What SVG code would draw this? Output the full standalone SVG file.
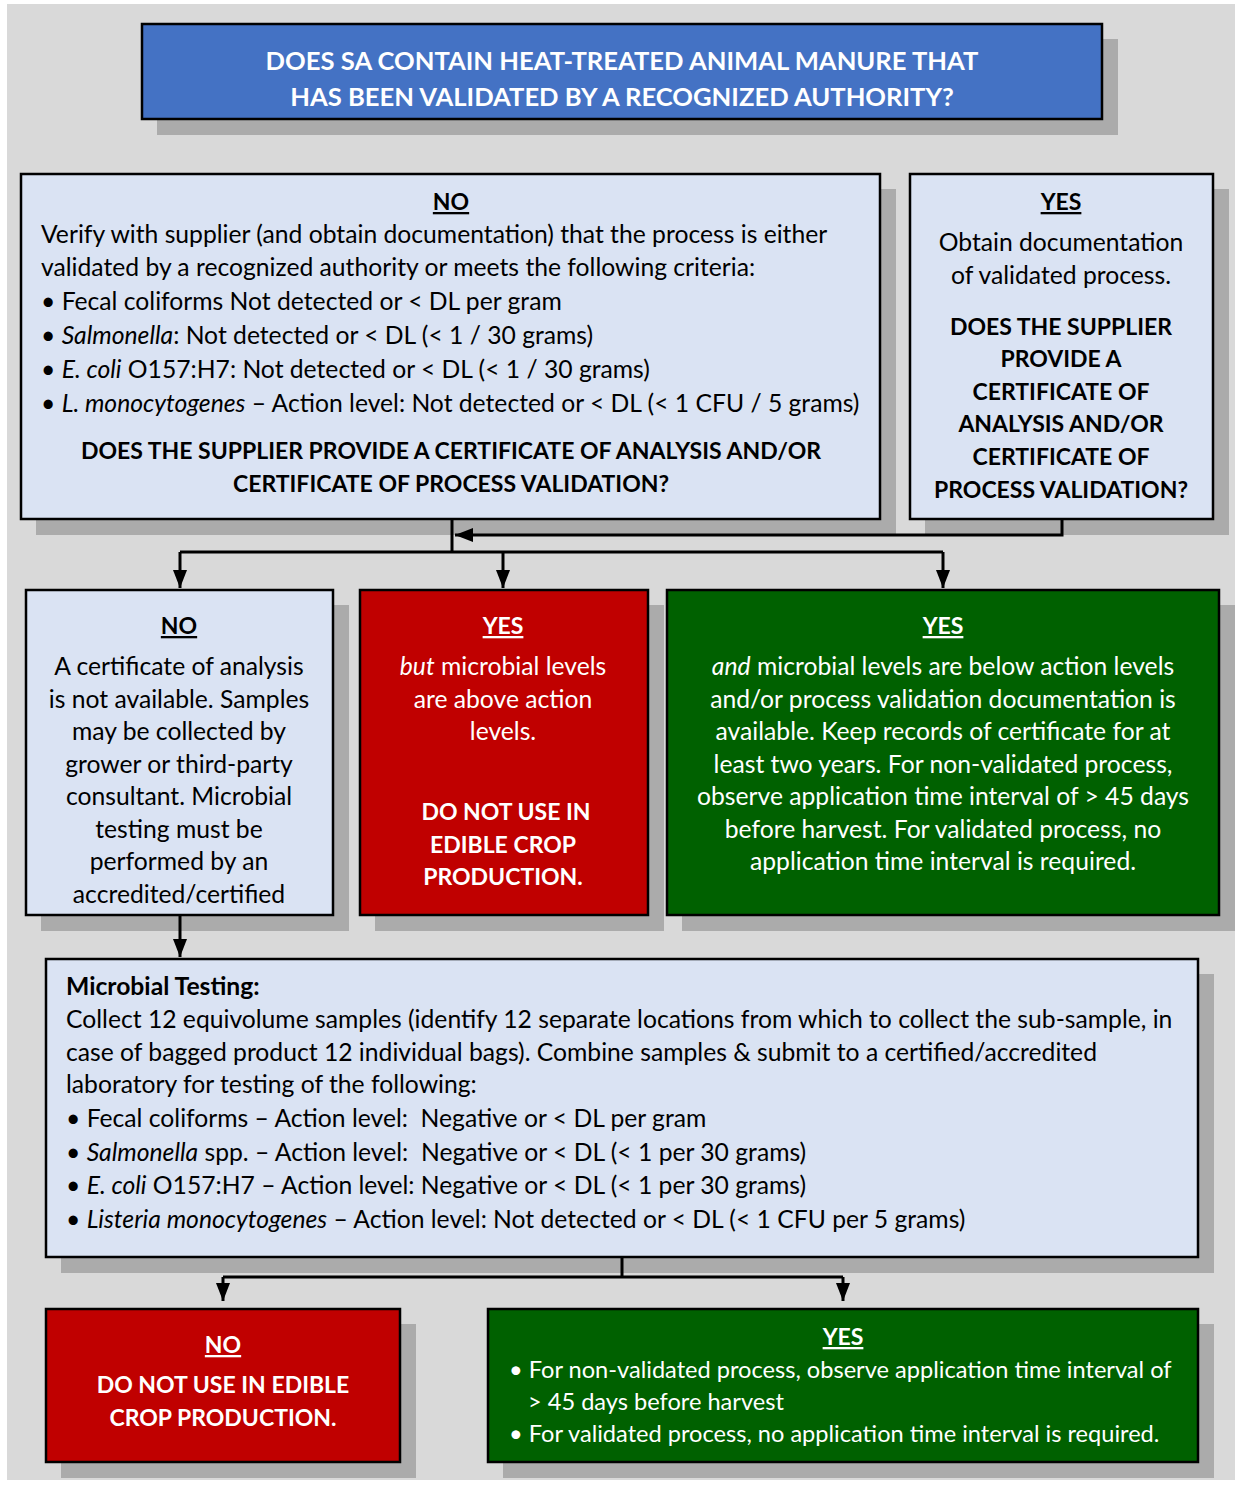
<svg xmlns="http://www.w3.org/2000/svg" width="1235" height="1488" viewBox="0 0 1235 1488">
<defs>
<marker id="ah" markerUnits="userSpaceOnUse" markerWidth="18" markerHeight="14" viewBox="0 0 18 14" refX="18" refY="7" orient="auto"><path d="M0,0 L18,7 L0,14 Z" fill="#000"/></marker>
</defs>
<style>
text{font-family:Lato,"Liberation Sans",sans-serif;font-size:24.7px;fill:#000;white-space:pre}
.c{text-anchor:middle}
.b{font-weight:bold;font-size:23px}
.bt{font-weight:bold;font-size:25.6px}
.i{font-style:italic}
.u{text-decoration:underline;font-weight:bold;font-size:23px}
.w{fill:#fff}
.s{font-size:23.6px}
.sh{fill:#ababab}
.lb{fill:#dae3f3;stroke:#000;stroke-width:2.5}
.red{fill:#c00000;stroke:#000;stroke-width:2.5}
.grn{fill:#006100;stroke:#000;stroke-width:2.5}
.blu{fill:#4472c4;stroke:#000;stroke-width:2.5}
.ln{fill:none;stroke:#000;stroke-width:3}
</style>
<rect x="7" y="4" width="1228" height="1476" fill="#d9d9d9"/>

<g id="q1">
<rect class="sh" x="157" y="39" width="961" height="96"/>
<rect class="blu" x="142" y="24" width="960" height="95"/>
<text class="c bt w" x="622" y="70">DOES SA CONTAIN HEAT-TREATED ANIMAL MANURE THAT</text>
<text class="c bt w" x="622" y="106">HAS BEEN VALIDATED BY A RECOGNIZED AUTHORITY?</text>
</g>

<g id="no1">
<rect class="sh" x="36" y="189" width="860" height="346"/>
<rect class="lb" x="21" y="174" width="859" height="345"/>
<text class="c u" x="451" y="210">NO</text>
<text x="41" y="243">Verify with supplier (and obtain documentation) that the process is either</text>
<text x="41" y="276">validated by a recognized authority or meets the following criteria:</text>
<text x="41" y="310">• Fecal coliforms Not detected or &lt; DL per gram</text>
<text x="41" y="344">• <tspan class="i">Salmonella</tspan>: Not detected or &lt; DL (&lt; 1 / 30 grams)</text>
<text x="41" y="378">• <tspan class="i">E. coli</tspan> O157:H7: Not detected or &lt; DL (&lt; 1 / 30 grams)</text>
<text x="41" y="412">• <tspan class="i">L. monocytogenes</tspan> – Action level: Not detected or &lt; DL (&lt; 1 CFU / 5 grams)</text>
<text class="c b" x="451" y="459">DOES THE SUPPLIER PROVIDE A CERTIFICATE OF ANALYSIS AND/OR</text>
<text class="c b" x="451" y="492">CERTIFICATE OF PROCESS VALIDATION?</text>
</g>

<g id="yes1">
<rect class="sh" x="925" y="189" width="304" height="346"/>
<rect class="lb" x="910" y="174" width="303" height="345"/>
<text class="c u" x="1061" y="210">YES</text>
<text class="c" x="1061" y="251">Obtain documentation</text>
<text class="c" x="1061" y="284">of validated process.</text>
<text class="c b" x="1061" y="335">DOES THE SUPPLIER</text>
<text class="c b" x="1061" y="367">PROVIDE A</text>
<text class="c b" x="1061" y="400">CERTIFICATE OF</text>
<text class="c b" x="1061" y="432">ANALYSIS AND/OR</text>
<text class="c b" x="1061" y="465">CERTIFICATE OF</text>
<text class="c b" x="1061" y="498">PROCESS VALIDATION?</text>
</g>

<g id="no2">
<rect class="sh" x="41" y="605" width="308" height="326"/>
<rect class="lb" x="26" y="590" width="307" height="325"/>
<text class="c u" x="179" y="634">NO</text>
<text class="c" x="179" y="675">A certificate of analysis</text>
<text class="c" x="179" y="708">is not available. Samples</text>
<text class="c" x="179" y="740">may be collected by</text>
<text class="c" x="179" y="773">grower or third-party</text>
<text class="c" x="179" y="805">consultant. Microbial</text>
<text class="c" x="179" y="838">testing must be</text>
<text class="c" x="179" y="870">performed by an</text>
<text class="c" x="179" y="903">accredited/certified</text>
</g>

<g id="yes-but">
<rect class="sh" x="375" y="605" width="289" height="326"/>
<rect class="red" x="360" y="590" width="288" height="325"/>
<text class="c u w" x="503" y="634">YES</text>
<text class="c w" x="503" y="675"><tspan class="i">but</tspan> microbial levels</text>
<text class="c w" x="503" y="708">are above action</text>
<text class="c w" x="503" y="740">levels.</text>
<text class="c b w" x="506" y="820">DO NOT USE IN</text>
<text class="c b w" x="503" y="853">EDIBLE CROP</text>
<text class="c b w" x="503" y="885">PRODUCTION.</text>
</g>

<g id="yes-and">
<rect class="sh" x="682" y="605" width="553" height="326"/>
<rect class="grn" x="667" y="590" width="552" height="325"/>
<text class="c u w" x="943" y="634">YES</text>
<text class="c w" x="943" y="675"><tspan class="i">and</tspan> microbial levels are below action levels</text>
<text class="c w" x="943" y="708">and/or process validation documentation is</text>
<text class="c w" x="943" y="740">available. Keep records of certificate for at</text>
<text class="c w" x="943" y="773">least two years. For non-validated process,</text>
<text class="c w" x="943" y="805">observe application time interval of &gt; 45 days</text>
<text class="c w" x="943" y="838">before harvest. For validated process, no</text>
<text class="c w" x="943" y="870">application time interval is required.</text>
</g>

<g id="testing">
<rect class="sh" x="61" y="974" width="1153" height="299"/>
<rect class="lb" x="46" y="959" width="1152" height="298"/>
<text x="66" y="995" style="font-weight:bold">Microbial Testing:</text>
<text x="66" y="1028">Collect 12 equivolume samples (identify 12 separate locations from which to collect the sub-sample, in</text>
<text x="66" y="1061">case of bagged product 12 individual bags). Combine samples &amp; submit to a certified/accredited</text>
<text x="66" y="1093">laboratory for testing of the following:</text>
<text x="66" y="1127">• Fecal coliforms – Action level:  Negative or &lt; DL per gram</text>
<text x="66" y="1161">• <tspan class="i">Salmonella</tspan> spp. – Action level:  Negative or &lt; DL (&lt; 1 per 30 grams)</text>
<text x="66" y="1194">• <tspan class="i">E. coli</tspan> O157:H7 – Action level: Negative or &lt; DL (&lt; 1 per 30 grams)</text>
<text x="66" y="1228">• <tspan class="i">Listeria monocytogenes</tspan> – Action level: Not detected or &lt; DL (&lt; 1 CFU per 5 grams)</text>
</g>

<g id="no3">
<rect class="sh" x="61" y="1324" width="355" height="154"/>
<rect class="red" x="46" y="1309" width="354" height="153"/>
<text class="c u w" x="223" y="1353">NO</text>
<text class="c b w" x="223" y="1393">DO NOT USE IN EDIBLE</text>
<text class="c b w" x="223" y="1426">CROP PRODUCTION.</text>
</g>

<g id="yes3">
<rect class="sh" x="503" y="1324" width="711" height="154"/>
<rect class="grn" x="488" y="1309" width="710" height="153"/>
<text class="c u w" x="843" y="1345">YES</text>
<text class="w s" x="509" y="1378">• For non-validated process, observe application time interval of</text>
<text class="w s" x="528" y="1410">&gt; 45 days before harvest</text>
<text class="w s" x="509" y="1442">• For validated process, no application time interval is required.</text>
</g>

<g id="connectors">
<path class="ln" d="M452,519 V552"/>
<path class="ln" d="M1062,519 V535 H455" marker-end="url(#ah)"/>
<path class="ln" d="M180,552 H943"/>
<path class="ln" d="M180,552 V588" marker-end="url(#ah)"/>
<path class="ln" d="M503,552 V588" marker-end="url(#ah)"/>
<path class="ln" d="M943,552 V588" marker-end="url(#ah)"/>
<path class="ln" d="M180,915 V957" marker-end="url(#ah)"/>
<path class="ln" d="M622,1257 V1277 M223,1277 H843"/>
<path class="ln" d="M223,1277 V1301" marker-end="url(#ah)"/>
<path class="ln" d="M843,1277 V1301" marker-end="url(#ah)"/>
</g>
</svg>
